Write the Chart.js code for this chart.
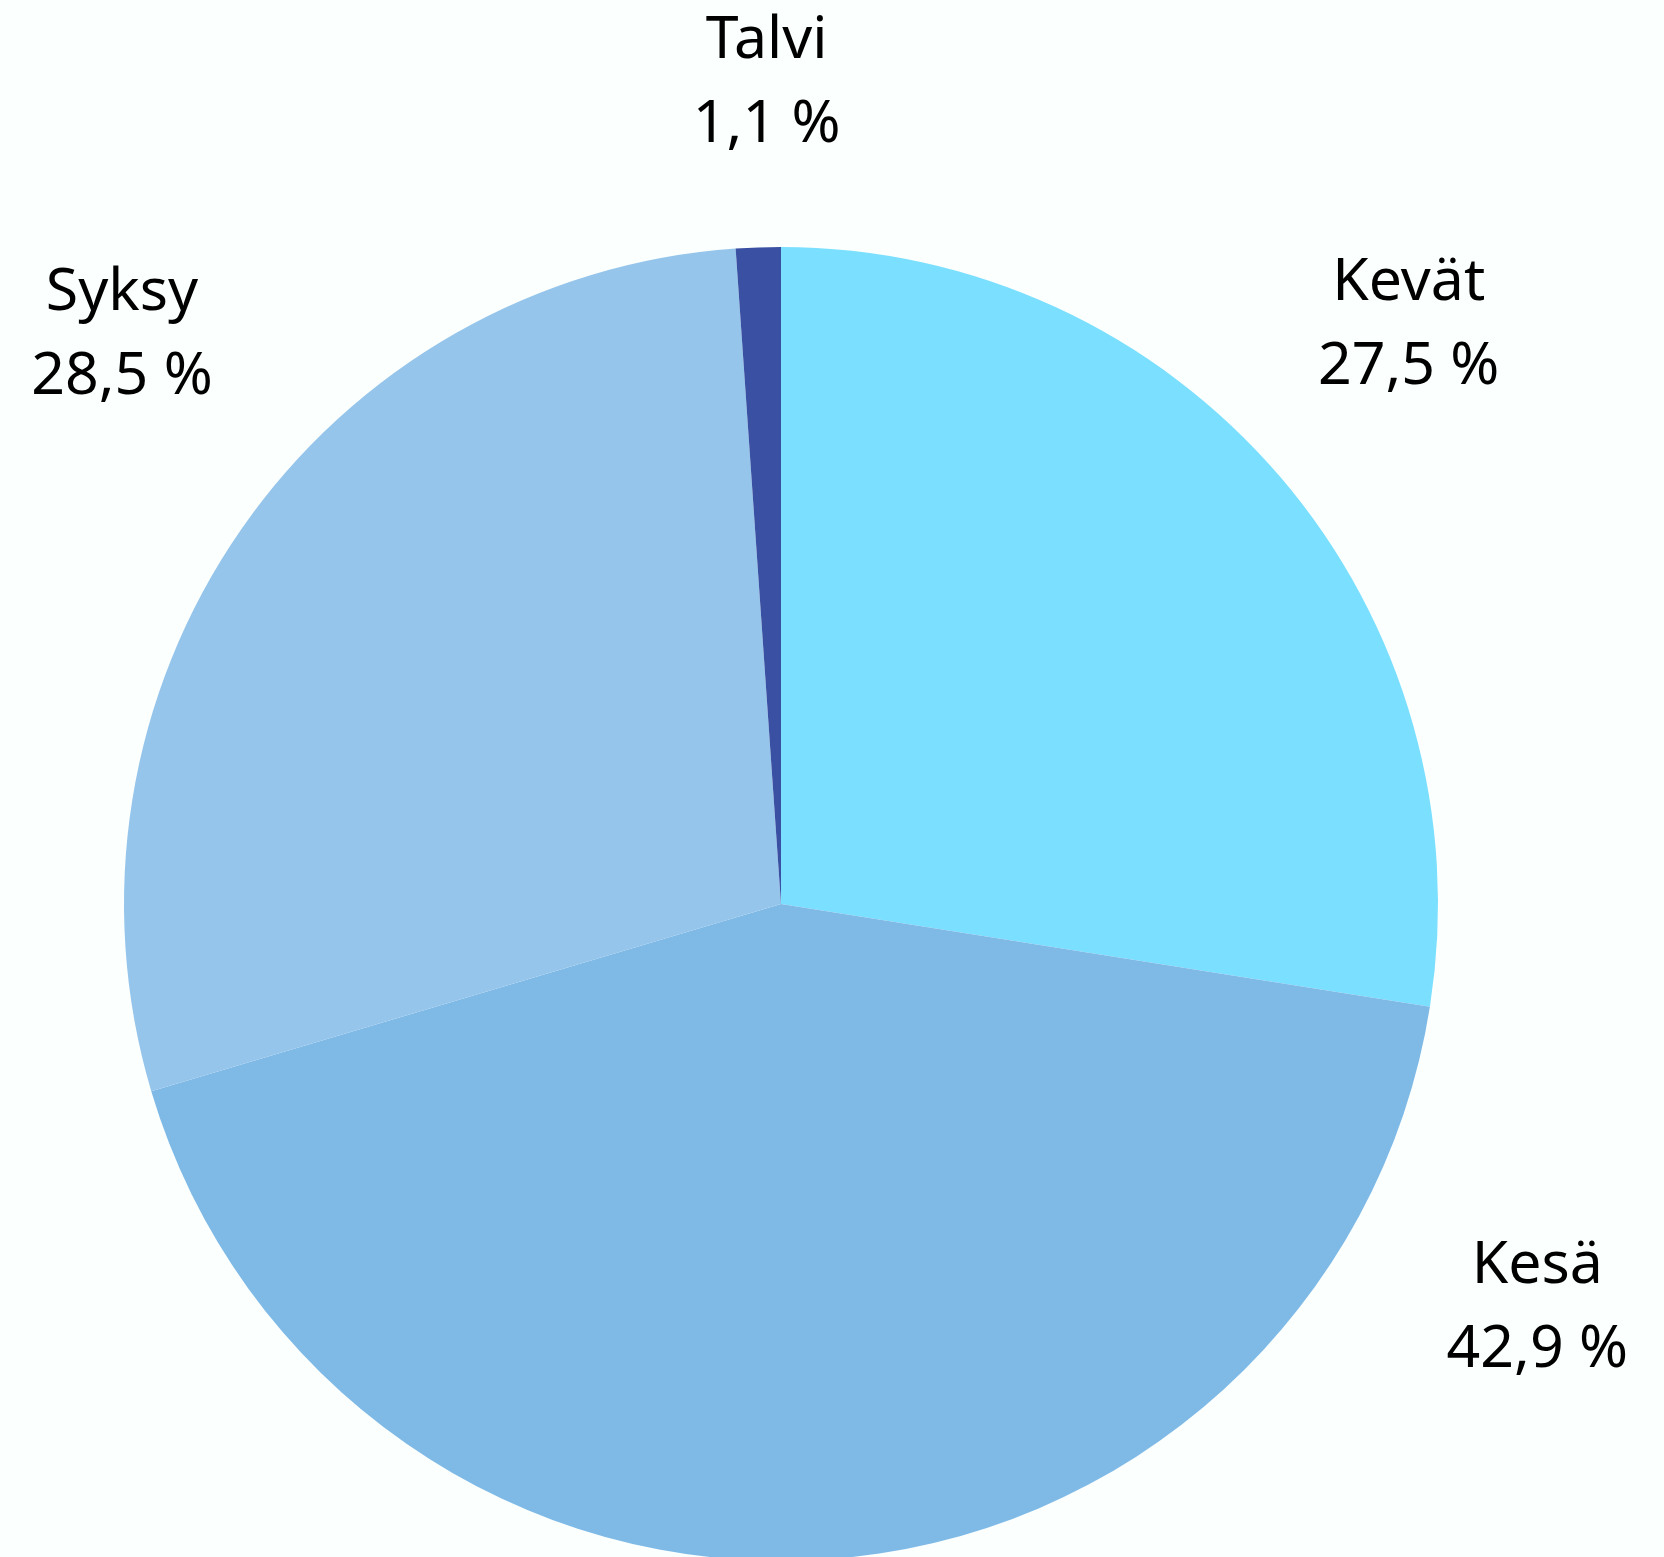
<!DOCTYPE html>
<html>
<head>
<meta charset="utf-8">
<script src="https://cdn.jsdelivr.net/npm/chart.js@4.4.1/dist/chart.umd.min.js"></script>
<style>
  html, body { margin: 0; padding: 0; background: #fbfffe; overflow: hidden; }
  #wrap { position: relative; width: 1664px; height: 1570px; }
</style>
</head>
<body>
<div id="wrap"><canvas id="chart-pie"></canvas></div>
<script>
var seasons = ['Kevät', 'Kesä', 'Syksy', 'Talvi'];
var shares = [27.5, 42.9, 28.5, 1.1];
var colors = ['#7bdfff', '#7fbae7', '#96c5eb', '#3a50a3'];

// where each label sits: angle (deg, clockwise from top) and distance as a multiple of the radius
var labelAngles = [47.3, 118.1, 310.8, 359];
var labelDist = [1.30, 1.305, 1.325, 1.25];

function fmt(v) {
    return v.toFixed(1).replace('.', ',') + ' %';
}

var outsideLabels = {
    id: 'outsideLabels',
    afterDatasetsDraw: function (chart) {
        var ctx = chart.ctx;
        var meta = chart.getDatasetMeta(0);
        ctx.save();
        ctx.fillStyle = '#000';
        ctx.font = '400 59px "Noto Sans", sans-serif';
        ctx.textAlign = 'center';
        ctx.textBaseline = 'middle';
        meta.data.forEach(function (arc, i) {
            var a = labelAngles[i] * Math.PI / 180;
            var d = arc.outerRadius * labelDist[i];
            var x = arc.x + d * Math.sin(a);
            var y = arc.y - d * Math.cos(a);
            ctx.fillText(seasons[i], x, y - 42);
            ctx.fillText(fmt(shares[i]), x, y + 42);
        });
        ctx.restore();
    }
};

var ctx1 = document.getElementById('chart-pie').getContext('2d');
new Chart(ctx1, {
    type: 'pie',
    data: {
        labels: seasons,
        datasets: [{
            data: shares,
            backgroundColor: colors,
            borderWidth: 0
        }]
    },
    options: {
        responsive: true,
        maintainAspectRatio: false,
        animation: false,
        layout: {
            padding: { top: 247, bottom: 9, left: 124, right: 226 }
        },
        plugins: {
            legend: { display: false },
            tooltip: { enabled: false }
        }
    },
    plugins: [outsideLabels]
});
</script>
</body>
</html>
